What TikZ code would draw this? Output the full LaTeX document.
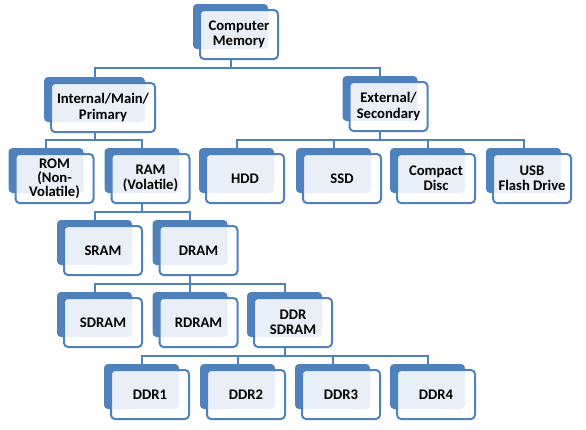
\documentclass[tikz,border=0pt]{standalone}
\usepackage{fontspec}
\setmainfont{Carlito}
\usetikzlibrary{calc}
\definecolor{memblue}{RGB}{79,129,189}

\begin{document}
\begin{tikzpicture}[
    x=0.75pt, y=-0.75pt,
    shade/.style={rectangle, rounded corners=3pt, fill=memblue, minimum width=56.25pt, minimum height=33.75pt, inner sep=0pt},
    card/.style={rectangle, rounded corners=3pt, draw=memblue, line width=1.5pt, fill=white, fill opacity=0.88, text opacity=1, minimum width=58.5pt, minimum height=36.75pt, inner sep=0pt, align=center, font=\fontsize{11}{11.5}\selectfont\bfseries},
    link/.style={draw=memblue, line width=1.5pt, to path={(\tikztostart) |- ($(\tikztostart)!0.5!(\tikztotarget)$) -| (\tikztotarget)}}
]
    \useasboundingbox (0,0) rectangle (586,429);

    % Root
    \node[shade] (memsh) at (230.5, 26.5) {};
    \node[card] (mem) at ([shift={(8.5,8)}]memsh) {Computer\\Memory};

    % Internal / External
    \node[shade, minimum width=75.75pt] (intsh) at (94.5, 99.5) {};
    \node[card, minimum width=78pt] (int) at ([shift={(8.5,8)}]intsh) {Internal/Main/\\Primary};
    \node[shade] (extsh) at (380, 98.5) {};
    \node[card] (ext) at ([shift={(8.5,8)}]extsh) {External/\\Secondary};

    % Level 3
    \node[shade] (romsh) at (46, 170.5) {};
    \node[card, font=\fontsize{11}{10.5}\selectfont\bfseries] (rom) at ([shift={(8.5,8)}]romsh) {ROM\\(Non-\\Volatile)};
    \node[shade] (ramsh) at (142, 170.5) {};
    \node[card] (ram) at ([shift={(8.5,8)}]ramsh) {RAM\\(Volatile)};
    \node[shade] (hddsh) at (236.5, 170.5) {};
    \node[card] (hdd) at ([shift={(8.5,8)}]hddsh) {HDD};
    \node[shade] (ssdsh) at (333.5, 170.5) {};
    \node[card] (ssd) at ([shift={(8.5,8)}]ssdsh) {SSD};
    \node[shade] (cdsh) at (427.5, 170.5) {};
    \node[card] (cd) at ([shift={(8.5,8)}]cdsh) {Compact\\Disc};
    \node[shade] (usbsh) at (523.5, 170.5) {};
    \node[card] (usb) at ([shift={(8.5,8)}]usbsh) {USB\\Flash Drive};

    % SRAM / DRAM
    \node[shade] (sramsh) at (94.5, 242.5) {};
    \node[card] (sram) at ([shift={(8.5,8)}]sramsh) {SRAM};
    \node[shade] (dramsh) at (190, 242.5) {};
    \node[card] (dram) at ([shift={(8.5,8)}]dramsh) {DRAM};

    % DRAM types
    \node[shade] (sdramsh) at (94.5, 314.5) {};
    \node[card] (sdram) at ([shift={(8.5,8)}]sdramsh) {SDRAM};
    \node[shade] (rdramsh) at (190, 314.5) {};
    \node[card] (rdram) at ([shift={(8.5,8)}]rdramsh) {RDRAM};
    \node[shade] (ddrsh) at (284.5, 314.5) {};
    \node[card] (ddr) at ([shift={(8.5,8)}]ddrsh) {DDR\\SDRAM};

    % DDR generations
    \node[shade] (ddronesh) at (141.5, 386.5) {};
    \node[card] (ddrone) at ([shift={(8.5,8)}]ddronesh) {DDR1};
    \node[shade] (ddrtwosh) at (237.5, 386.5) {};
    \node[card] (ddrtwo) at ([shift={(8.5,8)}]ddrtwosh) {DDR2};
    \node[shade] (ddrthreesh) at (332.5, 386.5) {};
    \node[card] (ddrthree) at ([shift={(8.5,8)}]ddrthreesh) {DDR3};
    \node[shade] (ddrfoursh) at (427.5, 386.5) {};
    \node[card] (ddrfour) at ([shift={(8.5,8)}]ddrfoursh) {DDR4};

    % Connectors
    \draw[link] (memsh |- mem.south) to (intsh.north);
    \draw[link] (memsh |- mem.south) to (extsh.north);
    \draw[link] (intsh |- int.south) to (romsh.north);
    \draw[link] (intsh |- int.south) to (ramsh.north);
    \draw[link] (extsh |- ext.south) to (hddsh.north);
    \draw[link] (extsh |- ext.south) to (ssdsh.north);
    \draw[link] (extsh |- ext.south) to (cdsh.north);
    \draw[link] (extsh |- ext.south) to (usbsh.north);
    \draw[link] (ramsh |- ram.south) to (sramsh.north);
    \draw[link] (ramsh |- ram.south) to (dramsh.north);
    \draw[link] (dramsh |- dram.south) to (sdramsh.north);
    \draw[link] (dramsh |- dram.south) to (rdramsh.north);
    \draw[link] (dramsh |- dram.south) to (ddrsh.north);
    \draw[link] (ddrsh |- ddr.south) to (ddronesh.north);
    \draw[link] (ddrsh |- ddr.south) to (ddrtwosh.north);
    \draw[link] (ddrsh |- ddr.south) to (ddrthreesh.north);
    \draw[link] (ddrsh |- ddr.south) to (ddrfoursh.north);
\end{tikzpicture}
\end{document}
